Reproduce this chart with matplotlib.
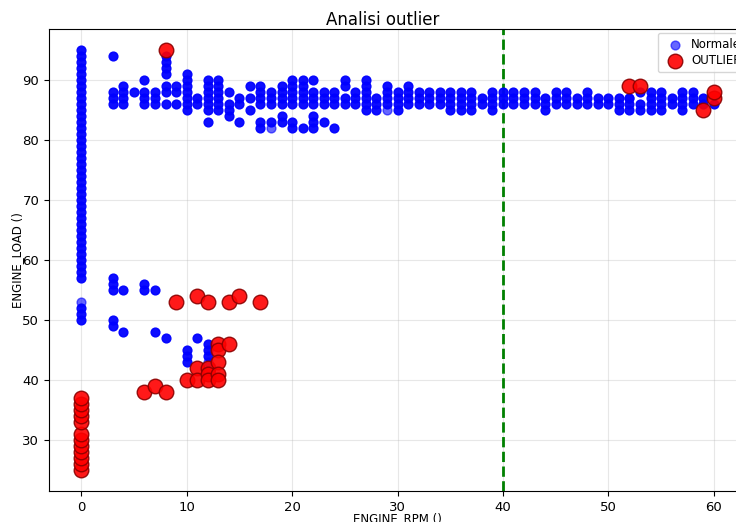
import matplotlib.pyplot as plt

# punti normali (rpm, load)
normal_rpm = (
    [0] * 39 + [0] * 3 +
    [3] * 9 + [4] * 6 + [5] + [6] * 6 + [7] * 5 + [8] * 8 + [9] * 3 +
    [10] * 10 + [11] * 3 + [12] * 10 + [13] * 6 + [14] * 4 + [15] * 3 +
    [16] * 3 + [17] * 6 + [18] * 4 + [19] * 6 + [20] * 7 + [21] * 6 +
    [22] * 7 + [23] * 4 + [24] * 4 + [25] * 4 + [26] * 3 + [27] * 6 +
    [28] * 3 + [29] * 4 + [30] * 4 + [31] * 4 + [32] * 3 + [33] * 3 +
    [34] * 3 + [35] * 4 + [36] * 4 + [37] * 4 + [38] * 2 + [39] * 4 +
    [40] * 3 + [41] * 3 + [42] * 3 + [43] * 3 + [44] * 3 + [45] * 3 +
    [46] * 3 + [47] * 2 + [48] * 3 + [49] * 2 + [50] * 2 + [51] * 3 +
    [52] * 3 + [53] * 3 + [54] * 4 + [55] * 4 + [56] * 2 + [57] * 4 +
    [58] * 3 + [59] * 2 + [60]
)
normal_load = (
    [57, 58, 59, 60, 61, 62, 63, 64, 65, 66, 67, 68, 69, 70, 71, 72, 73, 74, 75, 76,
     77, 78, 79, 80, 81, 82, 83, 84, 85, 86, 87, 88, 89, 90, 91, 92, 93, 94, 95] +
    [50, 51, 52] +
    [94, 86, 87, 88, 55, 56, 57, 49, 50] +          # 3
    [86, 87, 88, 89, 55, 48] +                      # 4
    [88] +                                          # 5
    [86, 87, 88, 90, 55, 56] +                      # 6
    [86, 87, 88, 55, 48] +                          # 7
    [86, 89, 91, 92, 93, 94, 47, 88] +              # 8
    [86, 88, 89] +                                  # 9
    [85, 86, 87, 88, 89, 90, 91, 43, 44, 45] +      # 10
    [86, 87, 47] +                                  # 11
    [83, 85, 86, 87, 88, 89, 90, 44, 45, 46] +      # 12
    [85, 86, 87, 88, 89, 90] +                      # 13
    [84, 85, 86, 88] +                              # 14
    [83, 86, 87] +                                  # 15
    [85, 87, 89] +                                  # 16
    [82, 83, 86, 87, 88, 89] +                      # 17
    [83, 86, 87, 88] +                              # 18
    [83, 84, 86, 87, 88, 89] +                      # 19
    [82, 83, 86, 87, 88, 89, 90] +                  # 20
    [82, 86, 87, 88, 89, 90] +                      # 21
    [82, 83, 84, 86, 87, 88, 90] +                  # 22
    [83, 86, 87, 88] +                              # 23
    [82, 86, 87, 88] +                              # 24
    [86, 87, 89, 90] +                              # 25
    [86, 87, 88] +                                  # 26
    [85, 86, 87, 88, 89, 90] +                      # 27
    [85, 86, 87] +                                  # 28
    [86, 87, 88, 89] +                              # 29
    [85, 86, 87, 88] +                              # 30
    [86, 87, 88, 89] +                              # 31
    [86, 87, 88] + [86, 87, 88] + [86, 87, 88] +    # 32-34
    [85, 86, 87, 88] + [85, 86, 87, 88] + [85, 86, 87, 88] +  # 35-37
    [86, 87] + [85, 86, 87, 88] +                   # 38-39
    [86, 87, 88] + [86, 87, 88] + [86, 87, 88] + [86, 87, 88] +  # 40-43
    [85, 86, 87] + [86, 87, 88] + [86, 87, 88] + [86, 87] +  # 44-47
    [86, 87, 88] + [86, 87] + [86, 87] + [85, 86, 87] +  # 48-51
    [85, 86, 87] + [85, 86, 88] +                   # 52-53
    [85, 86, 87, 88] + [85, 86, 87, 88] + [86, 87] +  # 54-56
    [85, 86, 87, 88] + [86, 87, 88] + [86, 87] + [86]  # 57-60
)

# punti normali isolati (piu' chiari)
single_rpm = [0, 12, 18, 29, 52]
single_load = [53, 43, 82, 85, 87]

# outlier
outlier_rpm = (
    [0] * 12 +
    [6, 7, 8, 8, 9, 10, 11, 11, 11, 12, 12, 12, 12, 13, 13, 13, 13, 13,
     14, 14, 15, 17, 52, 53, 59, 60, 60]
)
outlier_load = (
    [25, 26, 27, 28, 29, 30, 31, 33, 34, 35, 36, 37] +
    [38, 39, 38, 95, 53, 40, 54, 42, 40, 53, 42, 41, 40, 46, 45, 43, 41, 40,
     53, 46, 54, 53, 89, 89, 85, 87, 88]
)

soglia_rpm = 40

fig = plt.figure(figsize=(7.36, 5.22), dpi=100)
ax = fig.add_axes([49 / 736, 31 / 522, 697 / 736, 462 / 522])

ax.scatter(normal_rpm, normal_load, s=40, color='blue', alpha=0.95, zorder=2)
ax.scatter(single_rpm, single_load, s=40, color='blue', alpha=0.6, zorder=2)
# solo per la legenda
ax.scatter([], [], s=40, color='blue', alpha=0.6, label='Normale')
ax.scatter(outlier_rpm, outlier_load, s=110, color='red', edgecolors='darkred',
           linewidths=1, alpha=0.9, label='OUTLIER', zorder=3)

ax.axvline(soglia_rpm, color='green', linestyle='--', linewidth=2, zorder=1)

ax.set_xlim(-3.05, 63.05)
ax.set_ylim(21.5, 98.5)
ax.set_xticks([0, 10, 20, 30, 40, 50, 60])
ax.set_yticks([30, 40, 50, 60, 70, 80, 90])
ax.tick_params(labelsize=9.5)
ax.grid(True, alpha=0.3)
ax.set_axisbelow(True)

ax.set_xlabel('ENGINE_RPM ()', fontsize=8.5, labelpad=-1)
ax.set_ylabel('ENGINE_LOAD ()', fontsize=8.5, labelpad=-1)
ax.set_title('Analisi outlier', fontsize=12, x=(383 - 49) / 697, pad=3)
ax.legend(loc='upper left', bbox_to_anchor=((658 - 49) / 697, 1 - 4 / 462),
          borderaxespad=0, fontsize=8.5, handletextpad=0.4, labelspacing=0.3)

fig.savefig('out.png', dpi=100)
